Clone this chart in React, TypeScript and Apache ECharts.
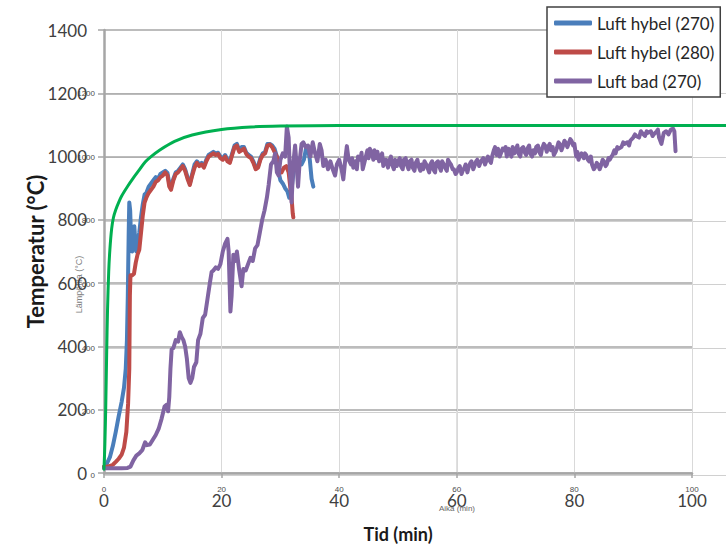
import React, { useEffect, useRef } from "react";
import * as echarts from "echarts";

const legendNames = ["Luft hybel (270)", "Luft hybel (280)", "Luft bad (270)"];
const seriesColors = ["#4a7ebb", "#be4b48", "#8064a2", "#00b050"];

const luftHybel270: [number, number][] = [
  [0, 20], [0.5, 30], [1, 50], [1.5, 85], [2, 130], [2.5, 180], [3, 225], [3.4, 270], [3.7, 330], [3.9, 420],
  [4.05, 560], [4.2, 760], [4.3, 855], [4.45, 830], [4.6, 740], [4.8, 700], [5.0, 720], [5.15, 780], [5.3, 740],
  [5.5, 700], [5.7, 730], [6.0, 760], [6.3, 810], [6.6, 850], [6.9, 880], [7.2, 885], [7.6, 905], [8.0, 915],
  [8.4, 925], [8.8, 935], [9.2, 930], [9.6, 945], [10.0, 950], [10.4, 955], [10.8, 948], [11.1, 915], [11.4, 905],
  [11.8, 930], [12.2, 950], [12.6, 955], [13.0, 965], [13.4, 975], [13.8, 960], [14.2, 935], [14.6, 915], [15.0, 945],
  [15.4, 975], [15.8, 985], [16.2, 975], [16.6, 980], [17.0, 970], [17.4, 990], [17.8, 1005], [18.2, 1010],
  [18.6, 1015], [19.0, 1010], [19.4, 1012], [19.8, 1000], [20.2, 995], [20.6, 1005], [21.0, 990], [21.4, 985],
  [21.8, 1010], [22.2, 1035], [22.6, 1040], [23.0, 1020], [23.4, 1030], [23.8, 1030], [24.2, 1012], [24.6, 1005],
  [25.0, 1000], [25.4, 985], [25.8, 965], [26.2, 970], [26.6, 995], [27.0, 1010], [27.4, 1015], [27.8, 1040],
  [28.2, 1040], [28.6, 1035], [29.0, 1025], [29.4, 1000], [29.7, 950], [30.0, 925], [30.4, 915], [30.8, 900],
  [31.2, 890], [31.5, 870], [31.8, 880], [32.1, 930], [32.4, 975], [32.8, 995], [33.2, 985], [33.6, 975],
  [34.0, 990], [34.4, 1030], [34.7, 1025], [35.0, 990], [35.3, 930], [35.6, 905],
];

const luftHybel280: [number, number][] = [
  [0, 20], [0.5, 20], [1, 22], [1.5, 26], [2, 35], [2.5, 45], [3, 58], [3.4, 80], [3.8, 130], [4.1, 220],
  [4.3, 330], [4.4, 560], [4.5, 625], [4.8, 625], [5.1, 630], [5.4, 665], [5.7, 690], [6.0, 705], [6.3, 760],
  [6.6, 815], [6.9, 855], [7.2, 870], [7.6, 885], [8.0, 895], [8.4, 905], [8.8, 920], [9.2, 925], [9.6, 935],
  [10.0, 940], [10.4, 950], [10.8, 940], [11.1, 905], [11.4, 895], [11.8, 925], [12.2, 945], [12.6, 950],
  [13.0, 960], [13.4, 970], [13.8, 955], [14.2, 930], [14.6, 910], [15.0, 940], [15.4, 965], [15.8, 980],
  [16.2, 970], [16.6, 975], [17.0, 965], [17.4, 985], [17.8, 1000], [18.2, 1005], [18.6, 1010], [19.0, 1005],
  [19.4, 1008], [19.8, 995], [20.2, 990], [20.6, 1000], [21.0, 985], [21.4, 980], [21.8, 1005], [22.2, 1030],
  [22.6, 1035], [23.0, 1015], [23.4, 1020], [23.8, 1025], [24.2, 1008], [24.6, 1000], [25.0, 995], [25.4, 980],
  [25.8, 960], [26.2, 965], [26.6, 990], [27.0, 1005], [27.4, 1010], [27.8, 1035], [28.2, 1038], [28.6, 1030],
  [29.0, 1015], [29.4, 1000], [29.8, 960], [30.2, 950], [30.6, 965], [31.0, 970], [31.4, 950], [31.7, 900],
  [31.9, 870], [32.1, 820], [32.2, 808],
];

const luftBad270: [number, number][] = [
  [0, 15], [1, 15], [2, 15], [3, 15], [4, 16], [4.5, 20], [5, 40], [5.5, 55], [6, 62], [6.5, 72], [7, 97],
  [7.3, 88], [7.8, 90], [8.3, 105], [8.8, 120], [9.3, 140], [9.8, 172], [10.3, 210], [10.6, 215], [10.9, 195],
  [11.1, 240], [11.3, 330], [11.5, 390], [11.8, 395], [12.2, 420], [12.6, 415], [12.9, 445], [13.2, 430],
  [13.5, 420], [13.8, 400], [14.1, 360], [14.4, 300], [14.7, 285], [15.0, 300], [15.3, 335], [15.7, 350],
  [16.0, 420], [16.4, 440], [16.8, 490], [17.2, 500], [17.6, 550], [18.0, 600], [18.3, 635], [18.6, 640],
  [19.0, 650], [19.4, 645], [19.8, 660], [20.2, 700], [20.6, 725], [21.0, 740], [21.2, 700], [21.5, 510],
  [21.7, 560], [22.0, 690], [22.3, 670], [22.6, 700], [23.0, 640], [23.4, 590], [23.7, 645], [24.1, 640],
  [24.5, 660], [24.9, 680], [25.3, 670], [25.7, 710], [26.1, 720], [26.5, 760], [26.9, 800], [27.3, 830],
  [27.7, 870], [28.0, 910], [28.4, 975], [28.8, 985], [29.1, 1010], [29.4, 950], [29.7, 940], [30.0, 990],
  [30.4, 1010], [30.8, 1000], [31.1, 1095], [31.4, 1060], [31.6, 960], [31.9, 855], [32.2, 980], [32.5, 1035],
  [32.8, 960], [33.0, 905], [33.3, 990], [33.6, 1040], [33.9, 1045], [34.3, 1030], [34.7, 1035], [35.1, 1000],
  [35.5, 1045], [35.9, 1010], [36.3, 985], [36.7, 1040], [37.0, 1020], [37.3, 970], [37.7, 990], [38.1, 960],
  [38.5, 985], [38.9, 960], [39.3, 940], [39.6, 975], [40.0, 990], [40.4, 960], [40.7, 928], [41.0, 985],
  [41.3, 1033], [41.6, 990], [42.0, 975], [42.2, 995], [42.4, 965], [42.8, 985], [43.0, 960], [43.2, 1000],
  [43.6, 990], [43.8, 1012], [44.0, 960], [44.4, 990], [44.8, 1020], [45.0, 995], [45.2, 1025], [45.6, 1010],
  [45.8, 990], [46.0, 1020], [46.3, 995], [46.5, 1015], [46.8, 985], [47.0, 1000], [47.3, 1010], [47.5, 970],
  [47.8, 990], [48.0, 990], [48.3, 965], [48.5, 985], [48.8, 1000], [49.0, 975], [49.3, 960], [49.5, 990],
  [49.8, 970], [50.0, 985], [50.3, 995], [50.5, 970], [50.8, 960], [51.0, 990], [51.3, 995], [51.5, 975],
  [51.8, 960], [52.0, 985], [52.3, 990], [52.5, 965], [52.8, 955], [53.0, 980], [53.3, 990], [53.5, 970],
  [53.8, 955], [54.0, 975], [54.3, 960], [54.5, 985], [54.8, 975], [55.0, 965], [55.3, 950], [55.5, 975],
  [55.8, 985], [56.0, 960], [56.3, 950], [56.5, 980], [56.8, 985], [57.0, 970], [57.3, 955], [57.5, 985],
  [57.8, 975], [58.0, 965], [58.3, 955], [58.5, 990], [58.8, 980], [59.0, 975], [59.3, 960], [59.5, 960],
  [59.8, 945], [60.0, 950], [60.3, 965], [60.5, 970], [60.8, 945], [61.0, 955], [61.3, 965], [61.5, 975],
  [61.8, 950], [62.0, 965], [62.3, 980], [62.5, 985], [62.8, 960], [63.0, 970], [63.3, 985], [63.5, 990],
  [63.8, 970], [64.0, 980], [64.3, 990], [64.5, 995], [64.8, 975], [65.0, 985], [65.3, 1000], [65.5, 990],
  [65.8, 980], [66.0, 1000], [66.3, 1020], [66.5, 1030], [66.8, 1005], [67.0, 1025], [67.3, 1000], [67.5, 1010],
  [67.8, 1025], [68.0, 1020], [68.3, 1030], [68.5, 1000], [68.8, 1025], [69.0, 1015], [69.3, 1000], [69.5, 1030],
  [69.8, 1010], [70.0, 1020], [70.3, 1035], [70.5, 1010], [70.8, 1000], [71.0, 1025], [71.3, 1030], [71.5, 1015],
  [71.8, 1005], [72.0, 1025], [72.3, 1035], [72.5, 1010], [72.8, 1000], [73.0, 1020], [73.3, 1010], [73.5, 1030],
  [73.8, 1035], [74.0, 1015], [74.3, 1005], [74.5, 1025], [74.8, 1040], [75.0, 1035], [75.3, 1015], [75.5, 1030],
  [75.8, 1040], [76.0, 1020], [76.3, 1030], [76.5, 1005], [76.8, 1015], [77.0, 1025], [77.3, 1045], [77.5, 1040],
  [77.8, 1020], [78.0, 1030], [78.3, 1050], [78.5, 1045], [78.8, 1030], [79.0, 1040], [79.3, 1055], [79.5, 1050],
  [79.8, 1035], [80.0, 1040], [80.3, 1000], [80.5, 1015], [80.7, 990], [81.0, 1005], [81.2, 1010], [81.6, 995],
  [81.8, 1010], [82.0, 1005], [82.3, 990], [82.5, 985], [82.8, 1000], [83.0, 975], [83.3, 960], [83.5, 965],
  [83.8, 980], [84.0, 975], [84.3, 960], [84.5, 970], [84.8, 990], [85.0, 985], [85.3, 970], [85.5, 975],
  [85.8, 995], [86.0, 990], [86.3, 1000], [86.5, 1005], [86.8, 1020], [87.0, 1010], [87.3, 1030], [87.5, 1025],
  [88.0, 1030], [88.3, 1045], [88.5, 1040], [89.0, 1045], [89.3, 1035], [89.5, 1050], [90.0, 1060], [90.3, 1070],
  [90.5, 1065], [91.0, 1060], [91.3, 1080], [91.5, 1075], [92.0, 1065], [92.3, 1080], [92.5, 1075], [93.0, 1080],
  [93.3, 1065], [93.5, 1070], [94.0, 1080], [94.2, 1085], [94.4, 1060], [94.8, 1040], [95.2, 1075], [95.6, 1080],
  [96.0, 1070], [96.4, 1085], [96.8, 1088], [97.0, 1080], [97.2, 1017],
];

const referenceCurve: [number, number][] = [
  [0, 20], [0.15, 100], [0.3, 220], [0.45, 380], [0.6, 520], [0.8, 640], [1.0, 710], [1.3, 775], [1.6, 810],
  [2, 835], [2.5, 858], [3, 878], [4, 908], [5, 935], [6, 960], [7, 985], [8, 1002], [9.5, 1023], [12, 1050],
  [15, 1070], [20, 1087], [25, 1095], [30, 1098], [40, 1100], [60, 1100], [80, 1100], [105.8, 1100],
];

export default function App() {
  const ref = useRef<HTMLDivElement>(null);
  useEffect(() => {
    const chart = echarts.init(ref.current!, null, { renderer: "svg" });
    const lineSeries = (name: string, data: [number, number][], color: string, width: number, extra: any = {}) => ({
      name,
      type: "line",
      data,
      showSymbol: false,
      symbol: "none",
      color,
      lineStyle: { color, width, join: "round", cap: "round" },
      z: 5,
      ...extra,
    });
    chart.setOption({
      animation: false,
      textStyle: { fontFamily: "Lato" },
      grid: [
        { left: 104, top: 30, right: 34, bottom: 72.5 },
        { left: 104, top: 93.6, right: 0, bottom: 72.5 },
      ],
      legend: {
        data: legendNames,
        orient: "vertical",
        left: 547,
        top: 7,
        icon: "roundRect",
        itemWidth: 38,
        itemHeight: 5,
        itemGap: 11,
        padding: [7, 6, 7, 7],
        backgroundColor: "#ffffff",
        borderColor: "#404040",
        borderWidth: 1.5,
        selectedMode: false,
        textStyle: { fontFamily: "Lato", fontSize: 17, color: "#262626", lineHeight: 18 },
        z: 10,
      },
      xAxis: [
        {
          gridIndex: 0,
          type: "value",
          min: 0,
          max: 100,
          interval: 20,
          z: 3,
          axisLine: { show: true, lineStyle: { color: "#a6a6a6", width: 2.5 } },
          axisTick: { show: true, length: 5, lineStyle: { color: "#a6a6a6", width: 1.5 } },
          axisLabel: { fontFamily: "Lato", fontSize: 17, color: "#404040", margin: 19, formatter: (v: number) => String(v) },
          splitLine: { show: true, lineStyle: { color: "#d9d9d9", width: 1 } },
          name: "Tid (min)",
          nameLocation: "middle",
          nameGap: 52,
          nameTextStyle: { fontFamily: "Lato", fontSize: 18, fontWeight: "bold", color: "#1a1a1a" },
        },
        {
          gridIndex: 1,
          type: "value",
          min: 0,
          max: 105.8,
          interval: 20,
          z: 1,
          axisLine: { show: false },
          axisTick: { show: false },
          axisLabel: {
            fontFamily: "Liberation Sans",
            fontSize: 8,
            color: "#4d4d4d",
            margin: 10,
            showMaxLabel: false,
            formatter: (v: number) => (v % 20 === 0 && v <= 100 ? String(v) : ""),
          },
          splitLine: { show: true, lineStyle: { color: "#e0e0e0", width: 1 } },
          name: "Aika (min)",
          nameLocation: "middle",
          nameGap: 29,
          nameTextStyle: { fontFamily: "Liberation Sans", fontSize: 8, color: "#666666", padding: [0, 0, 0, 84] },
        },
      ],
      yAxis: [
        {
          gridIndex: 0,
          type: "value",
          min: 0,
          max: 1400,
          interval: 200,
          z: 3,
          axisLine: { show: true, lineStyle: { color: "#a6a6a6", width: 2.5 } },
          axisTick: { show: true, length: 6, lineStyle: { color: "#a6a6a6", width: 1.5 } },
          axisLabel: { fontFamily: "Lato", fontSize: 17, color: "#404040", margin: 17, formatter: (v: number) => String(v) },
          splitLine: { show: true, lineStyle: { color: "#a6a6a6", width: 1.5 } },
          name: "Temperatur (°C)",
          nameLocation: "middle",
          nameGap: 58,
          nameMoveOverlap: false,
          nameTextStyle: { fontFamily: "Lato", fontSize: 22, fontWeight: "bold", color: "#1a1a1a" },
        },
        {
          gridIndex: 1,
          type: "value",
          min: 0,
          max: 1200,
          interval: 200,
          z: 1,
          axisLine: { show: false },
          axisTick: { show: false },
          axisLabel: { fontFamily: "Liberation Sans", fontSize: 8, color: "#4d4d4d", margin: 9, formatter: (v: number) => String(v) },
          splitLine: { show: true, lineStyle: { color: "#d0d0d0", width: 1 } },
          name: "Lämpötila (°C)",
          nameLocation: "middle",
          nameGap: 21,
          nameMoveOverlap: false,
          nameTextStyle: { fontFamily: "Liberation Sans", fontSize: 9, color: "#808080" },
        },
      ],
      series: [
        lineSeries(legendNames[0], luftHybel270, seriesColors[0], 4, { xAxisIndex: 0, yAxisIndex: 0 }),
        lineSeries(legendNames[1], luftHybel280, seriesColors[1], 4, { xAxisIndex: 0, yAxisIndex: 0 }),
        lineSeries(legendNames[2], luftBad270, seriesColors[2], 4, { xAxisIndex: 0, yAxisIndex: 0 }),
        lineSeries("Referanse", referenceCurve, seriesColors[3], 3, { xAxisIndex: 1, yAxisIndex: 1, smooth: 0.3, z: 6 }),
      ],
    });
    return () => chart.dispose();
  }, []);
  return (
    <div
      ref={ref}
      style={{ position: "absolute", left: 0, top: 0, width: 726, height: 548, background: "#ffffff" }}
    />
  );
}
